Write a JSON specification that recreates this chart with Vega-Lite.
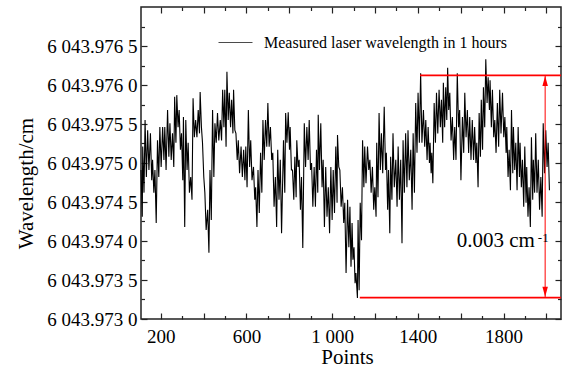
{
"$schema": "https://vega.github.io/schema/vega-lite/v6.json",
"width": 420, "height": 312,
"autosize": {"type": "none"},
"padding": {"left": 141, "top": 7, "right": 1, "bottom": 48},
"background": "white",
"config": {
  "font": "Liberation Serif",
  "view": {"stroke": "#222", "strokeWidth": 1.5},
  "axis": {"domain": false, "grid": false, "labelFont": "Liberation Serif", "titleFont": "Liberation Serif", "labelColor": "black", "titleColor": "black", "tickColor": "#222", "tickWidth": 1.2, "labelFontSize": 19, "titleFontSize": 21, "titleFontWeight": "normal"}
},
"data": {"values": [
{"x":108,"y":6043.97491},{"x":114,"y":6043.97431},{"x":116,"y":6043.97521},{"x":122,"y":6043.97462},{"x":127,"y":6043.97555},{"x":133,"y":6043.97482},{"x":139,"y":6043.97542},{"x":145,"y":6043.97491},{"x":152,"y":6043.97538},{"x":158,"y":6043.97478},{"x":162,"y":6043.97504},{"x":168,"y":6043.97462},{"x":173,"y":6043.97491},{"x":179,"y":6043.97423},{"x":185,"y":6043.97529},{"x":191,"y":6043.97482},{"x":196,"y":6043.97546},{"x":202,"y":6043.97495},{"x":209,"y":6043.97546},{"x":215,"y":6043.97504},{"x":219,"y":6043.97546},{"x":225,"y":6043.97491},{"x":232,"y":6043.97568},{"x":238,"y":6043.97508},{"x":243,"y":6043.97551},{"x":249,"y":6043.97504},{"x":255,"y":6043.97538},{"x":261,"y":6043.97495},{"x":265,"y":6043.97585},{"x":271,"y":6043.97526},{"x":275,"y":6043.97587},{"x":281,"y":6043.97546},{"x":286,"y":6043.97568},{"x":292,"y":6043.97517},{"x":297,"y":6043.97538},{"x":303,"y":6043.97478},{"x":306,"y":6043.97559},{"x":312,"y":6043.97418},{"x":317,"y":6043.97555},{"x":323,"y":6043.97491},{"x":328,"y":6043.97526},{"x":334,"y":6043.97462},{"x":340,"y":6043.97482},{"x":346,"y":6043.97453},{"x":351,"y":6043.97583},{"x":357,"y":6043.97533},{"x":363,"y":6043.97555},{"x":369,"y":6043.97533},{"x":375,"y":6043.97568},{"x":381,"y":6043.97538},{"x":384,"y":6043.97591},{"x":390,"y":6043.97546},{"x":395,"y":6043.97526},{"x":401,"y":6043.97482},{"x":406,"y":6043.97462},{"x":412,"y":6043.97414},{"x":419,"y":6043.9744},{"x":425,"y":6043.97385},{"x":430,"y":6043.97491},{"x":436,"y":6043.97427},
{"x":442,"y":6043.97568},{"x":448,"y":6043.97482},{"x":453,"y":6043.97551},{"x":459,"y":6043.97526},{"x":465,"y":6043.97564},{"x":471,"y":6043.97529},{"x":478,"y":6043.97555},{"x":484,"y":6043.97529},{"x":489,"y":6043.97594},{"x":495,"y":6043.97546},{"x":499,"y":6043.97594},{"x":505,"y":6043.97521},{"x":509,"y":6043.97617},{"x":515,"y":6043.97555},{"x":520,"y":6043.9759},{"x":526,"y":6043.97546},{"x":531,"y":6043.97581},{"x":537,"y":6043.97538},{"x":540,"y":6043.97594},{"x":546,"y":6043.97542},{"x":551,"y":6043.97538},{"x":557,"y":6043.97504},{"x":562,"y":6043.97529},{"x":568,"y":6043.97487},{"x":575,"y":6043.97521},{"x":581,"y":6043.97482},{"x":587,"y":6043.97517},{"x":593,"y":6043.97478},{"x":597,"y":6043.97521},{"x":603,"y":6043.97469},{"x":609,"y":6043.97568},{"x":615,"y":6043.97495},{"x":620,"y":6043.97529},{"x":626,"y":6043.97478},{"x":633,"y":6043.97495},{"x":639,"y":6043.97453},{"x":643,"y":6043.97469},{"x":649,"y":6043.97418},{"x":654,"y":6043.97491},{"x":660,"y":6043.97436},{"x":666,"y":6043.97513},{"x":672,"y":6043.97462},{"x":677,"y":6043.97555},{"x":683,"y":6043.97504},{"x":689,"y":6043.97555},{"x":695,"y":6043.97521},{"x":700,"y":6043.97577},{"x":706,"y":6043.97521},{"x":712,"y":6043.97546},{"x":718,"y":6043.97504},{"x":723,"y":6043.97513},{"x":729,"y":6043.97444},{"x":735,"y":6043.97482},{"x":741,"y":6043.97418},{"x":746,"y":6043.97517},{"x":752,"y":6043.97453},
{"x":758,"y":6043.97504},{"x":764,"y":6043.9741},{"x":773,"y":6043.97529},{"x":779,"y":6043.97462},{"x":783,"y":6043.97564},{"x":789,"y":6043.97526},{"x":795,"y":6043.97565},{"x":801,"y":6043.97517},{"x":804,"y":6043.97546},{"x":810,"y":6043.97491},{"x":815,"y":6043.97491},{"x":821,"y":6043.97453},{"x":826,"y":6043.97508},{"x":832,"y":6043.97456},{"x":835,"y":6043.97529},{"x":841,"y":6043.97495},{"x":846,"y":6043.97504},{"x":852,"y":6043.9744},{"x":857,"y":6043.97482},{"x":863,"y":6043.97391},{"x":870,"y":6043.97551},{"x":876,"y":6043.97495},{"x":882,"y":6043.97546},{"x":888,"y":6043.97504},{"x":893,"y":6043.97555},{"x":899,"y":6043.97491},{"x":904,"y":6043.975},{"x":910,"y":6043.97444},{"x":916,"y":6043.97495},{"x":922,"y":6043.97444},{"x":927,"y":6043.97517},{"x":933,"y":6043.97462},{"x":935,"y":6043.97562},{"x":941,"y":6043.97491},{"x":947,"y":6043.97551},{"x":953,"y":6043.97469},{"x":958,"y":6043.97504},{"x":964,"y":6043.97418},{"x":970,"y":6043.97495},{"x":976,"y":6043.97431},{"x":982,"y":6043.97469},{"x":988,"y":6043.9741},{"x":994,"y":6043.97495},{"x":1000,"y":6043.97427},{"x":1005,"y":6043.97491},{"x":1011,"y":6043.97436},{"x":1017,"y":6043.97521},{"x":1023,"y":6043.97449},{"x":1025,"y":6043.97536},{"x":1031,"y":6043.97495},{"x":1036,"y":6043.97491},{"x":1042,"y":6043.97444},{"x":1048,"y":6043.97469},{"x":1054,"y":6043.97423},{"x":1059,"y":6043.97449},{"x":1065,"y":6043.97359},{"x":1072,"y":6043.97453},{"x":1078,"y":6043.97392},{"x":1083,"y":6043.97444},{"x":1088,"y":6043.97367},
{"x":1093,"y":6043.97423},{"x":1097,"y":6043.97376},{"x":1102,"y":6043.97392},{"x":1107,"y":6043.97346},{"x":1111,"y":6043.97359},{"x":1118,"y":6043.97327},{"x":1121,"y":6043.97427},{"x":1126,"y":6043.97337},{"x":1131,"y":6043.97449},{"x":1137,"y":6043.97401},{"x":1142,"y":6043.97529},{"x":1148,"y":6043.97469},{"x":1152,"y":6043.97521},{"x":1158,"y":6043.97474},{"x":1165,"y":6043.97521},{"x":1171,"y":6043.97491},{"x":1176,"y":6043.97504},{"x":1182,"y":6043.97462},{"x":1188,"y":6043.97495},{"x":1194,"y":6043.9744},{"x":1199,"y":6043.97469},{"x":1205,"y":6043.97431},{"x":1208,"y":6043.97526},{"x":1214,"y":6043.97456},{"x":1219,"y":6043.97564},{"x":1225,"y":6043.97491},{"x":1230,"y":6043.97538},{"x":1236,"y":6043.97487},{"x":1243,"y":6043.97572},{"x":1249,"y":6043.97491},{"x":1253,"y":6043.97513},{"x":1259,"y":6043.9744},{"x":1263,"y":6043.97491},{"x":1269,"y":6043.9741},{"x":1273,"y":6043.97508},{"x":1279,"y":6043.97453},{"x":1284,"y":6043.97538},{"x":1290,"y":6043.97469},{"x":1297,"y":6043.97504},{"x":1303,"y":6043.97444},{"x":1308,"y":6043.97521},{"x":1314,"y":6043.97453},{"x":1320,"y":6043.97504},{"x":1326,"y":6043.97397},{"x":1331,"y":6043.97529},{"x":1337,"y":6043.97462},{"x":1343,"y":6043.97538},{"x":1349,"y":6043.97469},{"x":1354,"y":6043.97542},{"x":1360,"y":6043.97478},{"x":1367,"y":6043.97517},{"x":1373,"y":6043.9744},{"x":1378,"y":6043.97538},{"x":1384,"y":6043.97462},{"x":1390,"y":6043.97577},{"x":1396,"y":6043.97513},{"x":1401,"y":6043.9759},{"x":1407,"y":6043.97526},
{"x":1413,"y":6043.97615},{"x":1419,"y":6043.97526},{"x":1426,"y":6043.97568},{"x":1432,"y":6043.97521},{"x":1437,"y":6043.97555},{"x":1443,"y":6043.97504},{"x":1448,"y":6043.97546},{"x":1454,"y":6043.975},{"x":1457,"y":6043.97526},{"x":1462,"y":6043.97487},{"x":1465,"y":6043.97513},{"x":1470,"y":6043.97474},{"x":1476,"y":6043.97577},{"x":1482,"y":6043.97526},{"x":1487,"y":6043.9759},{"x":1493,"y":6043.97538},{"x":1499,"y":6043.97594},{"x":1505,"y":6043.97546},{"x":1510,"y":6043.97581},{"x":1516,"y":6043.97526},{"x":1519,"y":6043.97603},{"x":1525,"y":6043.97546},{"x":1530,"y":6043.97597},{"x":1535,"y":6043.97555},{"x":1539,"y":6043.97622},{"x":1544,"y":6043.97568},{"x":1549,"y":6043.9759},{"x":1555,"y":6043.97529},{"x":1561,"y":6043.97559},{"x":1567,"y":6043.97504},{"x":1572,"y":6043.97546},{"x":1578,"y":6043.97504},{"x":1584,"y":6043.97615},{"x":1590,"y":6043.97546},{"x":1595,"y":6043.97568},{"x":1601,"y":6043.97478},{"x":1608,"y":6043.97559},{"x":1614,"y":6043.97513},{"x":1619,"y":6043.9759},{"x":1625,"y":6043.97533},{"x":1631,"y":6043.97568},{"x":1637,"y":6043.97513},{"x":1642,"y":6043.97559},{"x":1648,"y":6043.97504},{"x":1654,"y":6043.97555},{"x":1660,"y":6043.97504},{"x":1665,"y":6043.97546},{"x":1671,"y":6043.975},{"x":1675,"y":6043.97526},{"x":1681,"y":6043.97469},{"x":1686,"y":6043.97564},{"x":1692,"y":6043.97508},{"x":1696,"y":6043.97581},{"x":1702,"y":6043.97517},{"x":1706,"y":6043.97597},{"x":1712,"y":6043.97546},{"x":1717,"y":6043.97633},{"x":1723,"y":6043.97577},{"x":1728,"y":6043.9761},{"x":1734,"y":6043.97568},{"x":1737,"y":6043.97606},{"x":1743,"y":6043.97546},
{"x":1748,"y":6043.97594},{"x":1754,"y":6043.97533},{"x":1759,"y":6043.97555},{"x":1765,"y":6043.97513},{"x":1771,"y":6043.97577},{"x":1777,"y":6043.97521},{"x":1782,"y":6043.97594},{"x":1788,"y":6043.97538},{"x":1795,"y":6043.9759},{"x":1801,"y":6043.97533},{"x":1806,"y":6043.97559},{"x":1812,"y":6043.97513},{"x":1815,"y":6043.97546},{"x":1821,"y":6043.97482},{"x":1826,"y":6043.97517},{"x":1832,"y":6043.97465},{"x":1837,"y":6043.97568},{"x":1843,"y":6043.97487},{"x":1846,"y":6043.97546},{"x":1852,"y":6043.97491},{"x":1857,"y":6043.97526},{"x":1863,"y":6043.97465},{"x":1868,"y":6043.97546},{"x":1874,"y":6043.97482},{"x":1877,"y":6043.97526},{"x":1883,"y":6043.97469},{"x":1888,"y":6043.97504},{"x":1894,"y":6043.97444},{"x":1899,"y":6043.97521},{"x":1905,"y":6043.97449},{"x":1908,"y":6043.97495},{"x":1914,"y":6043.97431},{"x":1919,"y":6043.97469},{"x":1925,"y":6043.97418},{"x":1930,"y":6043.97533},{"x":1936,"y":6043.97453},{"x":1939,"y":6043.97504},{"x":1945,"y":6043.97462},{"x":1950,"y":6043.97538},{"x":1956,"y":6043.97462},{"x":1962,"y":6043.97504},{"x":1968,"y":6043.9744},{"x":1974,"y":6043.97482},{"x":1980,"y":6043.97431},{"x":1985,"y":6043.97551},{"x":1991,"y":6043.97487},{"x":1997,"y":6043.97542},{"x":2003,"y":6043.97495},{"x":2008,"y":6043.97526},{"x":2014,"y":6043.97465}
]},
"layer": [
  {"mark": {"type": "line", "strokeWidth": 1.1},
   "encoding": {
     "x": {"field": "x", "type": "quantitative", "scale": {"domain": [108, 2068], "nice": false, "zero": false},
       "axis": {"orient": "bottom", "title": "Points", "values": [200,300,400,500,600,700,800,900,1000,1100,1200,1300,1400,1500,1600,1700,1800,1900,2000],
         "labelExpr": "datum.value % 400 == 200 ? (datum.value == 1000 ? '1 000' : '' + datum.value) : ''",
         "tickSize": {"condition": {"test": "datum.value % 200 == 0", "value": -6}, "value": -3.5},
         "labelPadding": 14, "labelFlush": false, "labelOverlap": false, "titleX": 206, "titleY": 38, "titleBaseline": "middle"}},
     "y": {"field": "y", "type": "quantitative", "scale": {"domain": [6043.973, 6043.977], "nice": false, "zero": false},
       "axis": {"orient": "left", "title": "Wavelength/cm", "values": [6043.973, 6043.97325, 6043.9735, 6043.97375, 6043.974, 6043.97425, 6043.9745, 6043.97475, 6043.975, 6043.97525, 6043.9755, 6043.97575, 6043.976, 6043.97625, 6043.9765, 6043.97675],
         "labelExpr": "round((datum.value - 6043.973) * 4000) % 2 == 0 ? '6 ' + substring(format(datum.value, '.4f'), 1, 8) + ' ' + substring(format(datum.value, '.4f'), 8, 9) : ''",
         "tickSize": {"condition": {"test": "round((datum.value - 6043.973) * 4000) % 2 == 0", "value": -6}, "value": -3.5},
         "labelPadding": 10, "labelFlush": false, "labelOverlap": false, "titleX": -115, "titleY": 176, "titleAlign": "center", "titleBaseline": "middle"}},
     "color": {"datum": "Measured laser wavelength in 1 hours", "scale": {"range": ["black"]},
       "legend": {"orient": "none", "legendX": 77, "legendY": 18, "title": null, "symbolType": "stroke", "symbolSize": 1156, "symbolStrokeWidth": 1, "symbolOpacity": 0.7, "labelFont": "Liberation Serif", "labelFontSize": 16, "labelOffset": 11, "labelLimit": 0, "padding": 0}}
   }},
  {"mark": {"type": "line", "strokeOpacity": 0},
   "encoding": {
     "x": {"field": "x", "type": "quantitative",
       "axis": {"orient": "top", "title": null, "labels": false, "values": [200,300,400,500,600,700,800,900,1000,1100,1200,1300,1400,1500,1600,1700,1800,1900,2000],
         "tickSize": {"condition": {"test": "datum.value % 200 == 0", "value": -6}, "value": -3.5}}},
     "y": {"field": "y", "type": "quantitative",
       "axis": {"orient": "right", "title": null, "labels": false, "values": [6043.973, 6043.97325, 6043.9735, 6043.97375, 6043.974, 6043.97425, 6043.9745, 6043.97475, 6043.975, 6043.97525, 6043.9755, 6043.97575, 6043.976, 6043.97625, 6043.9765, 6043.97675],
         "tickSize": {"condition": {"test": "round((datum.value - 6043.973) * 4000) % 2 == 0", "value": -6}, "value": -3.5}}}
   }},
  {"data": {"values": [{}]}, "mark": {"type": "rule", "color": "#ff0000", "strokeWidth": 1.8},
   "encoding": {"x": {"datum": 1410, "type": "quantitative", "axis": null}, "x2": {"datum": 2068}, "y": {"datum": 6043.976124, "type": "quantitative", "axis": null}}},
  {"data": {"values": [{}]}, "mark": {"type": "rule", "color": "#ff0000", "strokeWidth": 1.8},
   "encoding": {"x": {"datum": 1129, "type": "quantitative", "axis": null}, "x2": {"datum": 2068}, "y": {"datum": 6043.973273, "type": "quantitative", "axis": null}}},
  {"data": {"values": [{}]}, "mark": {"type": "rule", "color": "#ff0000", "strokeWidth": 1},
   "encoding": {"x": {"datum": 1994, "type": "quantitative", "axis": null}, "y": {"datum": 6043.976124, "type": "quantitative", "axis": null}, "y2": {"datum": 6043.973273}}},
  {"data": {"values": [{}]}, "mark": {"type": "point", "shape": "M0,-1L0.55,1L-0.55,1Z", "filled": true, "color": "#ff0000", "size": 100, "opacity": 1},
   "encoding": {"x": {"datum": 1994, "type": "quantitative", "axis": null}, "y": {"datum": 6043.97605, "type": "quantitative", "axis": null}}},
  {"data": {"values": [{}]}, "mark": {"type": "point", "shape": "M0,1L0.55,-1L-0.55,-1Z", "filled": true, "color": "#ff0000", "size": 100, "opacity": 1},
   "encoding": {"x": {"datum": 1994, "type": "quantitative", "axis": null}, "y": {"datum": 6043.97335, "type": "quantitative", "axis": null}}},
  {"data": {"values": [{}]}, "mark": {"type": "text", "text": "0.003 cm", "font": "Liberation Serif", "fontSize": 21, "align": "left", "baseline": "alphabetic", "color": "black"},
   "encoding": {"x": {"datum": 1581, "type": "quantitative", "axis": null}, "y": {"datum": 6043.973923, "type": "quantitative", "axis": null}}},
  {"data": {"values": [{}]}, "mark": {"type": "text", "text": "-1", "font": "Liberation Serif", "fontSize": 13, "align": "left", "baseline": "alphabetic", "color": "black"},
   "encoding": {"x": {"datum": 1960, "type": "quantitative", "axis": null}, "y": {"datum": 6043.973987, "type": "quantitative", "axis": null}}}
],
"resolve": {"axis": {"x": "independent", "y": "independent"}}
}
